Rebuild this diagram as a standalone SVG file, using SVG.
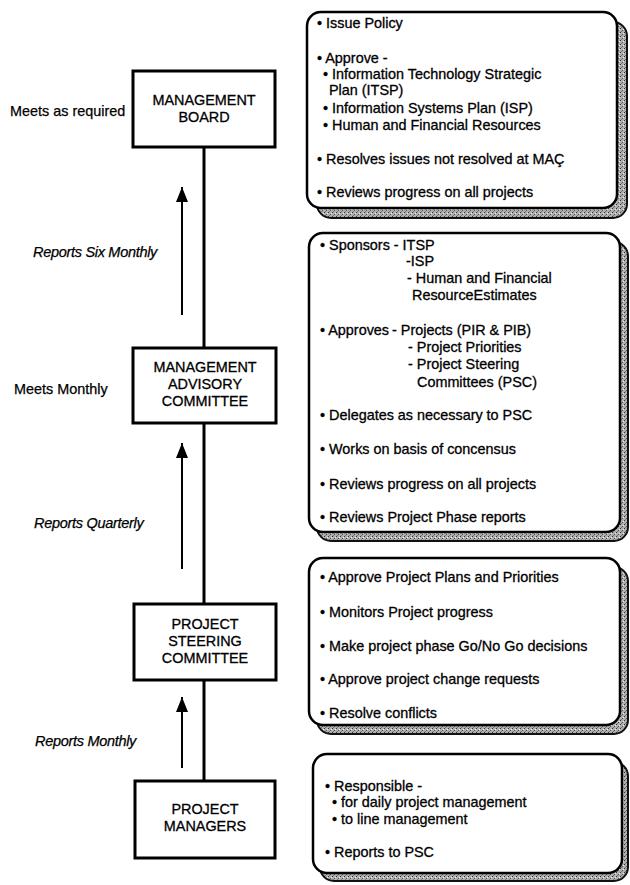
<svg xmlns="http://www.w3.org/2000/svg" width="630" height="885" viewBox="0 0 630 885">
<style>
  .box { fill: #fff; stroke: #000; stroke-width: 3; }
  .panel { fill: #fff; stroke: #000; stroke-width: 2.5; }
  .shadow { fill: url(#stipple); stroke: #111; stroke-width: 2; }
  .node { font-family: "Liberation Sans", Arial, sans-serif; font-size: 14.4px; fill: #000; stroke: #000; stroke-width: 0.3; text-anchor: middle; }
  .side { font-family: "Liberation Sans", Arial, sans-serif; font-size: 14.4px; fill: #000; stroke: #000; stroke-width: 0.25; }
  .rep { font-family: "Liberation Sans", Arial, sans-serif; font-size: 14.5px; letter-spacing: -0.3px; font-style: italic; fill: #000; stroke: #000; stroke-width: 0.25; }
  .txt { font-family: "Liberation Sans", Arial, sans-serif; font-size: 14.4px; fill: #000; stroke: #000; stroke-width: 0.3; }
  .link { stroke: #000; stroke-width: 3; fill: none; }
  .arrow { stroke: #000; stroke-width: 2; fill: none; marker-end: url(#head); }
</style>
<defs>
  <pattern id="stipple" width="4" height="4" patternUnits="userSpaceOnUse">
    <rect width="4" height="4" fill="#b0b0b0"/>
    <rect x="0" y="0" width="1" height="1" fill="#333"/>
    <rect x="2" y="2" width="1" height="1" fill="#555"/>
    <rect x="3" y="1" width="1" height="1" fill="#eee"/>
    <rect x="1" y="3" width="1" height="1" fill="#777"/>
  </pattern>
  <marker id="head" markerUnits="userSpaceOnUse" markerWidth="16" markerHeight="14" viewBox="0 0 16 14" refX="15" refY="7" orient="auto">
    <path d="M0,1 L15,7 L0,13 Z" fill="#000"/>
  </marker>
</defs>

<g id="connectors">
  <line class="link" x1="204" y1="147" x2="204" y2="348"/>
  <line class="link" x1="204" y1="423" x2="204" y2="604"/>
  <line class="link" x1="204" y1="680" x2="204" y2="781"/>
  <line class="arrow" x1="182" y1="315" x2="182" y2="187"/>
  <line class="arrow" x1="182" y1="569" x2="182" y2="443"/>
  <line class="arrow" x1="182" y1="768" x2="182" y2="697"/>
</g>

<g id="labels">
  <text class="side" x="10" y="116">Meets as required</text>
  <text class="side" x="14" y="394">Meets Monthly</text>
  <text class="rep" x="33" y="257">Reports Six Monthly</text>
  <text class="rep" x="34" y="528">Reports Quarterly</text>
  <text class="rep" x="35" y="746">Reports Monthly</text>
</g>

<g id="management-board">
  <rect class="box" x="133" y="71" width="142" height="76"/>
  <text class="node" x="204" y="105">MANAGEMENT</text>
  <text class="node" x="204" y="122">BOARD</text>
</g>

<g id="management-advisory-committee">
  <rect class="box" x="133" y="348" width="143" height="75"/>
  <text class="node" x="205" y="372">MANAGEMENT</text>
  <text class="node" x="205" y="389">ADVISORY</text>
  <text class="node" x="205" y="406">COMMITTEE</text>
</g>

<g id="project-steering-committee">
  <rect class="box" x="134" y="604" width="142" height="76"/>
  <text class="node" x="205" y="629">PROJECT</text>
  <text class="node" x="205" y="646">STEERING</text>
  <text class="node" x="205" y="663">COMMITTEE</text>
</g>

<g id="project-managers">
  <rect class="box" x="135" y="781" width="140" height="77"/>
  <text class="node" x="205" y="814">PROJECT</text>
  <text class="node" x="205" y="831">MANAGERS</text>
</g>

<g id="board-duties">
  <rect class="shadow" x="317" y="22" width="310" height="196" rx="14"/>
  <rect class="panel" x="307" y="12" width="310" height="196" rx="14"/>
  <text class="txt" x="317" y="28">• Issue Policy</text>
  <text class="txt" x="317" y="63">• Approve -</text>
  <text class="txt" x="323" y="79">• Information Technology Strategic</text>
  <text class="txt" x="329" y="95">Plan (ITSP)</text>
  <text class="txt" x="323" y="113">• Information Systems Plan (ISP)</text>
  <text class="txt" x="323" y="130">• Human and Financial Resources</text>
  <text class="txt" x="317" y="164">• Resolves issues not resolved at MAÇ</text>
  <text class="txt" x="317" y="197">• Reviews progress on all projects</text>
</g>

<g id="mac-duties">
  <rect class="shadow" x="317" y="242" width="311" height="299" rx="14"/>
  <rect class="panel" x="309" y="233" width="311" height="299" rx="14"/>
  <text class="txt" x="320" y="250">• Sponsors - ITSP</text>
  <text class="txt" x="406" y="266">-ISP</text>
  <text class="txt" x="407" y="283">- Human and Financial</text>
  <text class="txt" x="412" y="300">ResourceEstimates</text>
  <text class="txt" x="320" y="335">• Approves</text>
  <text class="txt" x="392" y="335">- Projects (PIR &amp; PIB)</text>
  <text class="txt" x="408" y="352">- Project Priorities</text>
  <text class="txt" x="408" y="369">- Project Steering</text>
  <text class="txt" x="417" y="387">Committees (PSC)</text>
  <text class="txt" x="320" y="420">• Delegates as necessary to PSC</text>
  <text class="txt" x="320" y="454">• Works on basis of concensus</text>
  <text class="txt" x="320" y="489">• Reviews progress on all projects</text>
  <text class="txt" x="320" y="522">• Reviews Project Phase reports</text>
</g>

<g id="psc-duties">
  <rect class="shadow" x="317" y="567" width="311" height="167" rx="14"/>
  <rect class="panel" x="309" y="558" width="311" height="167" rx="14"/>
  <text class="txt" x="320" y="582">• Approve Project Plans and Priorities</text>
  <text class="txt" x="320" y="617">• Monitors Project progress</text>
  <text class="txt" x="320" y="651">• Make project phase Go/No Go decisions</text>
  <text class="txt" x="320" y="684">• Approve project change requests</text>
  <text class="txt" x="320" y="718">• Resolve conflicts</text>
</g>

<g id="pm-duties">
  <rect class="shadow" x="320" y="762" width="308" height="119" rx="14"/>
  <rect class="panel" x="313" y="754" width="309" height="119" rx="14"/>
  <text class="txt" x="325" y="791">• Responsible -</text>
  <text class="txt" x="332" y="807">• for daily project management</text>
  <text class="txt" x="332" y="824">• to line management</text>
  <text class="txt" x="325" y="857">• Reports to PSC</text>
</g>
</svg>
